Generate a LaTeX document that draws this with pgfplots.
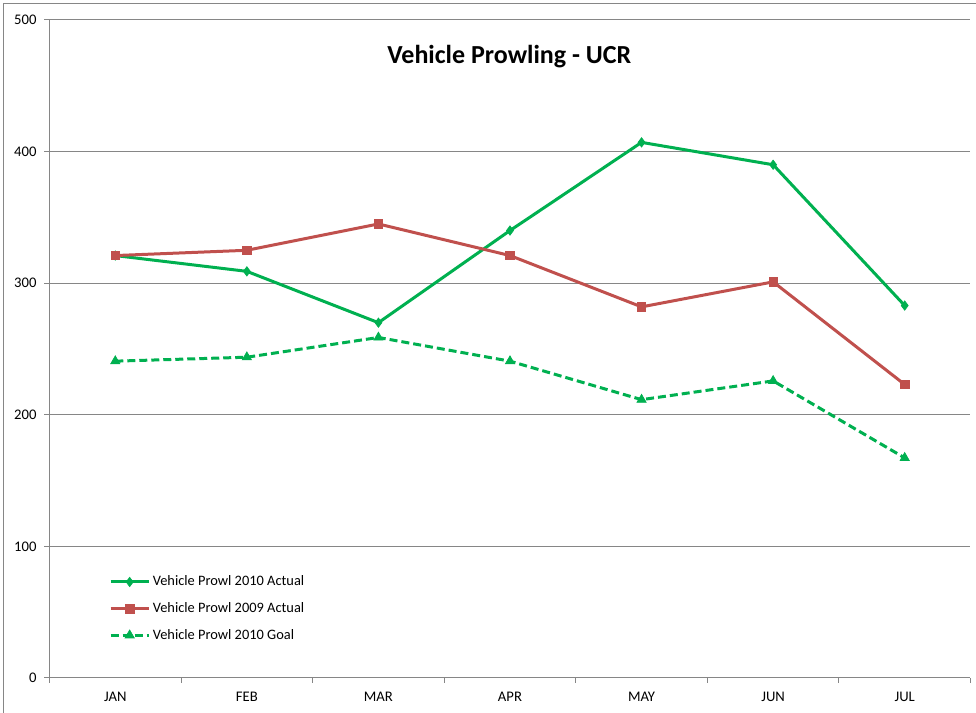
\documentclass[border=0pt]{standalone}
\usepackage{fontspec}
\setmainfont{Carlito}
\usepackage{pgfplots}
\pgfplotsset{compat=1.18}
\definecolor{xlgreen}{HTML}{00B050}
\definecolor{xlred}{HTML}{C0504D}
\definecolor{xlgray}{HTML}{868686}
\begin{document}
\begin{tikzpicture}
\path[use as bounding box] (0pt,0pt) rectangle (732pt,534.75pt);
\draw[xlgray,line width=0.75pt] (2.25pt,-5pt) -- (2.25pt,531.75pt) -- (740pt,531.75pt);
\node[font=\fontsize{19.5}{23}\selectfont\bfseries] at (382pt,492pt) {Vehicle Prowling - UCR};
\begin{axis}[
  at={(37.125pt,26.25pt)}, anchor=south west,
  scale only axis, width=690.75pt, height=493.5pt,
  xmin=-0.5, xmax=6.5, ymin=0, ymax=500,
  axis x line*=bottom, axis y line*=left,
  axis line style={xlgray,line width=0.75pt},
  xtick={-0.5,0.5,...,6.5},
  xticklabels={JAN,FEB,MAR,APR,MAY,JUN,JUL},
  x tick label as interval,
  ytick={0,100,...,500},
  ymajorgrids, grid style={xlgray,line width=0.75pt},
  tick align=outside, major tick length=3.75pt,
  tick style={xlgray,line width=0.75pt},
  tick label style={font=\fontsize{11}{13}\selectfont},
  xticklabel style={yshift=-3.5pt},
  yticklabel style={xshift=-2.5pt},
  /pgf/number format/assume math mode=true,
  legend style={at={(0.0645,0.1595)}, anchor=north west, draw=none, fill=none,
    font=\fontsize{10.8}{13}\selectfont, row sep=7pt, inner sep=0pt},
  legend cell align=left,
  legend image code/.code={\draw[mark repeat=2,mark phase=2,#1] plot coordinates {(0pt,0pt) (14.25pt,0pt) (28.5pt,0pt)};},
]
\addplot[xlgreen, line width=2.25pt, mark=diamond*, mark size=3.5pt, mark options={solid,line width=0.5pt}]
  coordinates {(0,321) (1,309) (2,270) (3,340) (4,407) (5,390) (6,283)};
\addlegendentry{Vehicle Prowl 2010 Actual}
\addplot[xlred, line width=2.25pt, mark=square*, mark size=3.2pt, mark options={solid,line width=0.5pt}]
  coordinates {(0,321) (1,325) (2,345) (3,321) (4,282) (5,301) (6,223)};
\addlegendentry{Vehicle Prowl 2009 Actual}
\addplot[xlgreen, line width=2.25pt, dash pattern=on 6pt off 3pt, mark=triangle*, mark size=4pt, mark options={solid,line width=0.5pt}]
  coordinates {(0,240.75) (1,243.75) (2,258.75) (3,240.75) (4,211.5) (5,225.75) (6,167.25)};
\addlegendentry{Vehicle Prowl 2010 Goal}
\end{axis}
\end{tikzpicture}
\end{document}
